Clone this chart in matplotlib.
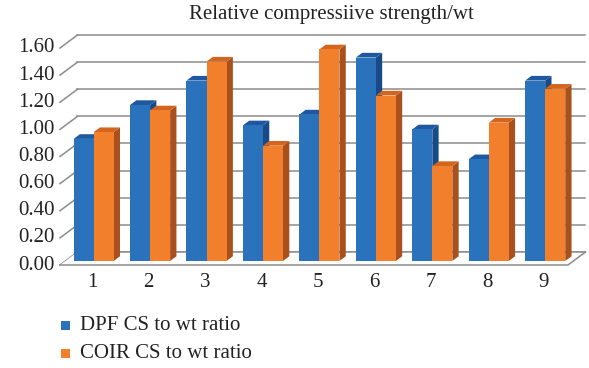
import matplotlib.pyplot as plt
from matplotlib.patches import Polygon, Rectangle

categories = ['1', '2', '3', '4', '5', '6', '7', '8', '9']
dpf = [0.90, 1.15, 1.33, 1.00, 1.08, 1.50, 0.97, 0.75, 1.33]
coir = [0.95, 1.11, 1.47, 0.85, 1.56, 1.22, 0.70, 1.02, 1.27]
yticks = [0.0, 0.2, 0.4, 0.6, 0.8, 1.0, 1.2, 1.4, 1.6]
series_names = ['DPF CS to wt ratio', 'COIR CS to wt ratio']

plt.rcParams['font.family'] = ['Liberation Serif', 'DejaVu Serif']

W, H = 589, 368
fig = plt.figure(figsize=(W / 100, H / 100), dpi=100)
ax = fig.add_axes([60 / W, (H - 265) / H, 508 / W, 217 / H])
ax.set_xlim(0, len(categories))
ax.set_ylim(0, 1.6)
ax.axis('off')

# 3d depth offset in data units
DX, DY = 0.31, 0.096
f0, depth = 0.31, 0.36
bw = 0.355
grid_c = '#8c8c8c'
fs = 15

# back wall gridlines + slants on the left wall
for v in yticks:
    ax.plot([DX, len(categories) + DX], [v + DY, v + DY], color=grid_c, lw=1.1, clip_on=False, zorder=1)
    ax.plot([0, DX], [v, v + DY], color=grid_c, lw=1.1, clip_on=False, zorder=1)
    ax.text(-0.1, v, f'{v:.2f}', ha='right', va='center', fontsize=fs, color='#222222')

# floor
n = len(categories)
ax.add_patch(Polygon([(0, 0), (n, 0), (n + DX, DY), (DX, DY)], closed=True,
                     facecolor='white', edgecolor='none', clip_on=False, zorder=1.5))
ax.plot([0, n, n + DX], [0, 0, DY], color=grid_c, lw=1.1, clip_on=False, zorder=1.6)
ax.plot([DX, n + DX], [DY, DY], color=grid_c, lw=1.1, clip_on=False, zorder=1.6)

colors = [('#2b72bd', '#1d58a0', '#174a86'), ('#f27f2c', '#d4651f', '#a9501c')]


def draw_bar(x0, v, cols, z):
    front, top, side = cols
    y0 = f0 * DY
    x1 = x0 + bw
    ddx, ddy = depth * DX, depth * DY
    ax.add_patch(Polygon([(x1, y0), (x1, y0 + v), (x1 + ddx, y0 + v + ddy), (x1 + ddx, y0 + ddy)],
                         closed=True, facecolor=side, edgecolor='none', clip_on=False, zorder=z))
    ax.add_patch(Polygon([(x0, y0 + v), (x1, y0 + v), (x1 + ddx, y0 + v + ddy), (x0 + ddx, y0 + v + ddy)],
                         closed=True, facecolor=top, edgecolor='none', clip_on=False, zorder=z))
    ax.add_patch(Rectangle((x0, y0), bw, v, facecolor=front, edgecolor='none', clip_on=False, zorder=z))


for i, (a, b) in enumerate(zip(dpf, coir)):
    c = i + 0.5 + f0 * DX
    draw_bar(c - bw, a, colors[0], 2 + i * 0.1)
    draw_bar(c, b, colors[1], 2.05 + i * 0.1)
    ax.text(i + 0.5 + 0.07, -0.13, categories[i], ha='center', va='center', fontsize=fs, color='#222222')

fig.text(331 / W, (H - 14) / H, 'Relative compressiive strength/wt', ha='center', va='center',
         fontsize=fs, color='#222222')

# legend
for k, name in enumerate(series_names):
    yy = (H - 325 - 28 * k) / H
    fig.patches.append(Rectangle((61 / W, yy - 4.5 / H), 9 / W, 9 / H, transform=fig.transFigure,
                                 facecolor=colors[k][0], edgecolor='none'))
    fig.text(80 / W, yy, name, ha='left', va='center', fontsize=fs, color='#222222')

fig.savefig('out.png', dpi=100)
